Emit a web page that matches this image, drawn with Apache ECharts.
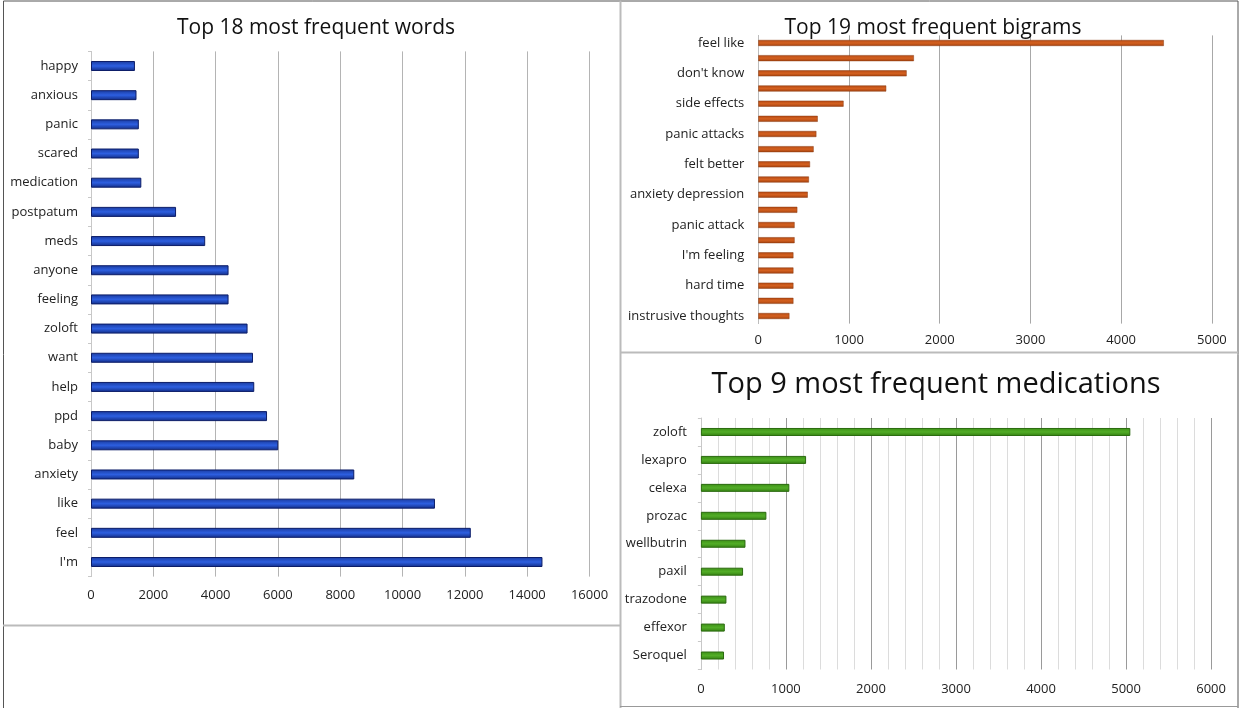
<!DOCTYPE html>
<html><head><meta charset="utf-8">
<script src="https://cdn.jsdelivr.net/npm/echarts@6/dist/echarts.min.js"></script>
<style>html,body{margin:0;padding:0;background:#fff}#c{width:1241px;height:708px}</style>
</head><body><div id="c"></div>
<script>
const wordCats = ["happy","anxious","panic","scared","medication","postpatum","meds","anyone","feeling","zoloft","want","help","ppd","baby","anxiety","like","feel","I'm"];
const wordVals = [1410,1460,1535,1535,1615,2730,3665,4415,4415,5025,5200,5240,5650,6010,8450,11040,12190,14490];
const wordTicks = [0,2000,4000,6000,8000,10000,12000,14000,16000];

const bigramCats = ["feel like","","don't know","","side effects","","panic attacks","","felt better","","anxiety depression","","panic attack","","I'm feeling","","hard time","","instrusive thoughts"];
const bigramVals = [4470,1715,1635,1410,940,655,640,610,570,558,545,430,400,400,387,387,387,387,343];
const bigramTicks = [0,1000,2000,3000,4000,5000];

const medCats = ["zoloft","lexapro","celexa","prozac","wellbutrin","paxil","trazodone","effexor","Seroquel"];
const medVals = [5050,1237,1040,770,524,496,300,281,272];
const medTicks = [0,1000,2000,3000,4000,5000,6000];

const FONT = "'Open Sans', 'Noto Sans', sans-serif";
function grad(a,b,c){return {type:'linear',x:0,y:0,x2:0,y2:1,colorStops:[{offset:0,color:a},{offset:0.5,color:b},{offset:1,color:c}]};}

const chart = echarts.init(document.getElementById('c'), null, {renderer:'canvas'});
const valAxisBase = (gi, ticks, gridColor, margin) => ({
  type:'value', gridIndex:gi, min:ticks[0], max:ticks[ticks.length-1], interval:ticks[1]-ticks[0],
  axisLine:{show:false}, axisTick:{show:false},
  axisLabel:{color:'#222', fontSize:13, fontFamily:FONT, margin:margin, formatter:(v)=>String(v)},
  splitLine:{show:true, lineStyle:{color:gridColor, width:1}}
});
const catAxisBase = (gi, cats, margin, lineColor) => ({
  type:'category', gridIndex:gi, data:cats, inverse:true,
  axisLine:{show:true, lineStyle:{color:lineColor}},
  axisTick:{show:true, length:3, lineStyle:{color:lineColor}},
  axisLabel:{color:'#222', fontSize:13, fontFamily:FONT, margin:margin, interval:0}
});

const medX = valAxisBase(2, medTicks, '#9a9a9a', 13);
medX.minorTick = {show:false, splitNumber:5};
medX.minorSplitLine = {show:true, lineStyle:{color:'#dcdcdc', width:1}};

chart.setOption({
  animation:false,
  backgroundColor:'#fff',
  title:[
    {text:'Top 18 most frequent words', left:311, top:13, textAlign:'center', textStyle:{fontFamily:FONT, fontWeight:'normal', fontSize:21, color:'#111'}},
    {text:'Top 19 most frequent bigrams', left:928, top:13, textAlign:'center', textStyle:{fontFamily:FONT, fontWeight:'normal', fontSize:21, color:'#111'}},
    {text:'Top 9 most frequent medications', left:931, top:365, textAlign:'center', textStyle:{fontFamily:FONT, fontWeight:'normal', fontSize:29, color:'#111'}}
  ],
  grid:[
    {left:91, right:651.5, top:51.4, bottom:131.4},
    {left:758.3, right:29.1, top:35.4, bottom:384.4},
    {left:700.9, right:29.9, top:418, bottom:38.5}
  ],
  xAxis:[
    valAxisBase(0, wordTicks, '#b4b4b4', 12),
    valAxisBase(1, bigramTicks, '#a8a8a8', 10),
    medX
  ],
  yAxis:[
    catAxisBase(0, wordCats, 13, '#c8c8c8'),
    Object.assign(catAxisBase(1, bigramCats, 14, '#bdbdbd'), {axisTick:{show:false}}),
    catAxisBase(2, medCats, 14, '#c8c8c8')
  ],
  series:[
    {type:'bar', xAxisIndex:0, yAxisIndex:0, data:wordVals, barWidth:10,
     itemStyle:{color:grad('#1a3a9e','#2d5fe0','#122c85'), borderColor:'#0c1d68', borderWidth:1}},
    {type:'bar', xAxisIndex:1, yAxisIndex:1, data:bigramVals, barWidth:6,
     itemStyle:{color:grad('#b44a14','#d4601f','#a4420f'), borderColor:'#8a3a10', borderWidth:0.5}},
    {type:'bar', xAxisIndex:2, yAxisIndex:2, data:medVals, barWidth:8,
     itemStyle:{color:grad('#3c8f16','#52ad27','#347f12'), borderColor:'#2a6a0e', borderWidth:1}}
  ],
  graphic:[
    {type:'polyline', shape:{points:[[3.5,708],[3.5,1],[1238,1],[1238,708]]}, style:{stroke:'#555', lineWidth:1, fill:null}},
    {type:'line', shape:{x1:3,y1:625.5,x2:620,y2:625.5}, style:{stroke:'#bbb', lineWidth:2}},
    {type:'line', shape:{x1:620.5,y1:1,x2:620.5,y2:708}, style:{stroke:'#bbb', lineWidth:2}},
    {type:'line', shape:{x1:620,y1:352.5,x2:1238,y2:352.5}, style:{stroke:'#bbb', lineWidth:2}},
    {type:'line', shape:{x1:620,y1:706.5,x2:1238,y2:706.5}, style:{stroke:'#999', lineWidth:1}}
  ]
});
</script></body></html>
